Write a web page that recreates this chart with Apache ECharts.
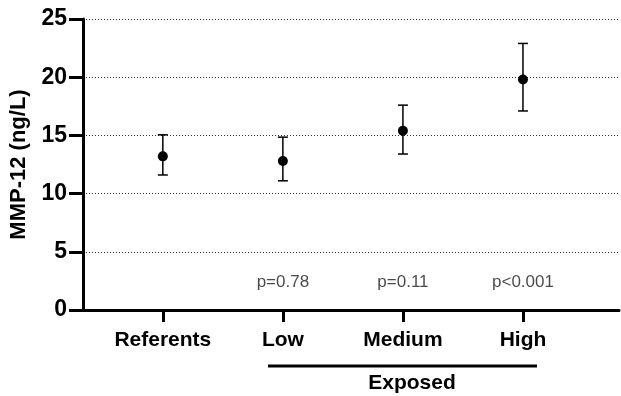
<!DOCTYPE html>
<html>
<head>
<meta charset="utf-8">
<script src="https://cdn.jsdelivr.net/npm/echarts@6/dist/echarts.min.js"></script>
<style>
  html, body { margin: 0; padding: 0; background: #fff; }
</style>
</head>
<body>
<div id="mmpChart" style="width: 621px; height: 396px;"></div>
<script>
// groups on the x axis
const groups = ['Referents', 'Low', 'Medium', 'High']
const groupPos = [0, 1, 2, 3]
// mean and error bar ends (ng/L)
const means = [13.2, 12.8, 15.4, 19.8]
const lowerEnds = [11.6, 11.1, 13.4, 17.1]
const upperEnds = [15.05, 14.85, 17.6, 22.9]
// p-values vs referents
const pGroups = [1, 2, 3]
const pTexts = ['p=0.78', 'p=0.11', 'p<0.001']
const pLevel = 2.4
const yTicks = [0, 5, 10, 15, 20, 25]

const font = '"Liberation Sans", Arial, sans-serif'

const chart = echarts.init(document.getElementById('mmpChart'))

const meanData = groupPos.map((x, i) => [x, means[i]])
const errData = groupPos.map((x, i) => [x, lowerEnds[i], upperEnds[i]])
const pData = pGroups.map((x, i) => [x, pLevel, pTexts[i]])

const option = {
  backgroundColor: '#fff',
  animation: false,
  grid: { left: 83, right: 2, top: 19, bottom: 86 },
  xAxis: {
    type: 'value',
    min: -0.665,
    max: 3.8,
    splitLine: { show: false },
    axisLine: { show: true, onZero: false, lineStyle: { color: '#000', width: 3 } },
    axisTick: {
      show: true,
      customValues: groupPos,
      length: 12,
      lineStyle: { color: '#000', width: 3 }
    },
    axisLabel: {
      customValues: groupPos,
      margin: 20,
      formatter: v => groups[Math.round(v)],
      fontFamily: font,
      fontWeight: 'bold',
      fontSize: 21,
      color: '#000'
    }
  },
  yAxis: {
    type: 'value',
    min: 0,
    max: 25,
    interval: 5,
    name: 'MMP-12 (ng/L)',
    nameLocation: 'middle',
    nameGap: 53,
    nameTextStyle: { fontFamily: font, fontWeight: 'bold', fontSize: 22, color: '#000' },
    axisLine: { show: true, onZero: false, lineStyle: { color: '#000', width: 3 } },
    axisTick: { show: true, length: 14, lineStyle: { color: '#000', width: 3 } },
    axisLabel: {
      margin: 16,
      fontFamily: font,
      fontWeight: 'bold',
      fontSize: 23,
      color: '#000',
      formatter: v => (yTicks.indexOf(v) >= 0 ? String(v) : '')
    },
    splitLine: {
      show: true,
      lineStyle: { color: '#333', width: 1, type: [1, 2] }
    }
  },
  series: [
    {
      name: 'error',
      type: 'custom',
      data: errData,
      z: 3,
      renderItem: function (params, api) {
        const x = api.value(0)
        const lo = api.coord([x, api.value(1)])
        const hi = api.coord([x, api.value(2)])
        const cap = 5
        const style = { stroke: '#000', lineWidth: 1.5 }
        return {
          type: 'group',
          children: [
            { type: 'line', shape: { x1: lo[0], y1: lo[1], x2: hi[0], y2: hi[1] }, style: style },
            { type: 'line', shape: { x1: lo[0] - cap, y1: lo[1], x2: lo[0] + cap, y2: lo[1] }, style: style },
            { type: 'line', shape: { x1: hi[0] - cap, y1: hi[1], x2: hi[0] + cap, y2: hi[1] }, style: style }
          ]
        }
      }
    },
    {
      name: 'mean',
      type: 'scatter',
      data: meanData,
      symbol: 'circle',
      symbolSize: 10,
      z: 4,
      itemStyle: { color: '#000', opacity: 1 }
    },
    {
      name: 'pvalues',
      type: 'scatter',
      data: pData,
      symbolSize: 1,
      itemStyle: { color: 'rgba(0,0,0,0)' },
      label: {
        show: true,
        position: 'inside',
        formatter: p => p.value[2],
        fontFamily: font,
        fontSize: 17,
        color: '#1a1a1a'
      }
    }
  ],
  graphic: [
    {
      type: 'line',
      shape: { x1: 268, y1: 366, x2: 537, y2: 366 },
      style: { stroke: '#000', lineWidth: 3 }
    },
    {
      type: 'text',
      x: 412,
      y: 383,
      style: {
        text: 'Exposed',
        fontFamily: font,
        fontWeight: 'bold',
        fontSize: 21,
        fill: '#000',
        align: 'center',
        verticalAlign: 'middle'
      }
    }
  ]
}

chart.setOption(option)
</script>
</body>
</html>
